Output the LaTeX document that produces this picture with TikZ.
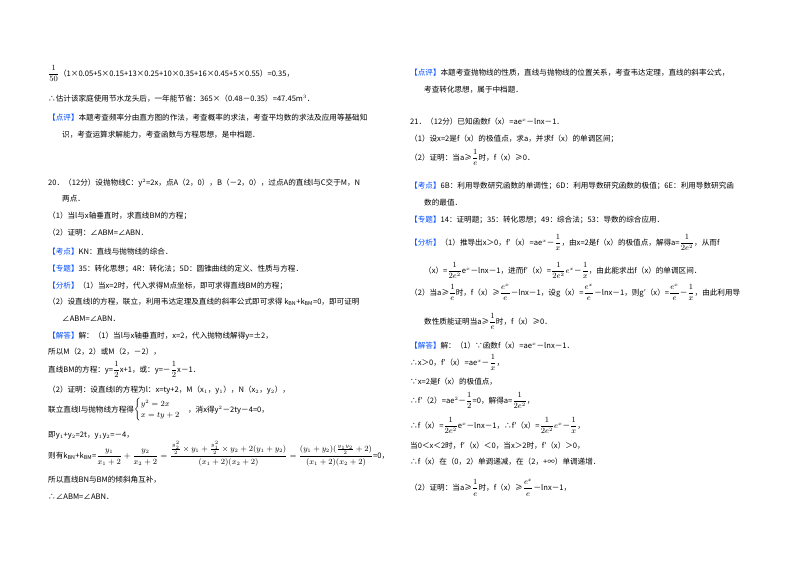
\documentclass[tikz,border=0pt]{standalone}
\usepackage{fontspec}
\usepackage{amsmath}
\setmainfont{Noto Sans CJK SC}
\begin{document}
\begin{tikzpicture}[x=1pt,y=-1pt,
 t/.style={anchor=base west,inner sep=0pt,font=\fontsize{7.6}{9}\selectfont}]
\useasboundingbox[fill=white] (0,0) rectangle (800,565);
\def\L#1{\textcolor{blue!70!cyan}{【#1】}}
\let\f\dfrac
% left column
\node[t] (l1) at (48,76) {$\f{1}{50}$（1×0.05+5×0.15+13×0.25+10×0.35+16×0.45+5×0.55）=0.35，};
\node[t] (l2) at (48,101) {∴估计该家庭使用节水龙头后，一年能节省：365×（0.48－0.35）=47.45m$^3$．};
\node[t] (l3) at (48,120) {\L{点评}本题考查频率分由直方图的作法，考查概率的求法，考查平均数的求法及应用等基础知};
\node[t] (l4) at (62,137) {识，考查运算求解能力，考查函数与方程思想，是中档题．};
\node[t] (l5) at (48,185) {20．（12分）设抛物线C：y$^2$=2x，点A（2，0），B（－2，0），过点A的直线l与C交于M，N};
\node[t] (l6) at (62,201) {两点．};
\node[t] (l7) at (48,218) {（1）当l与x轴垂直时，求直线BM的方程；};
\node[t] (l8) at (48,235) {（2）证明：∠ABM=∠ABN．};
\node[t] (l9) at (48,254) {\L{考点}KN：直线与抛物线的综合．};
\node[t] (l11) at (48,271) {\L{专题}35：转化思想；4R：转化法；5D：圆锥曲线的定义、性质与方程．};
\node[t] (l12) at (48,288) {\L{分析}（1）当x=2时，代入求得M点坐标，即可求得直线BM的方程；};
\node[t] (l13) at (48,304) {（2）设直线l的方程，联立，利用韦达定理及直线的斜率公式即可求得 k$_{\mathrm{BN}}$+k$_{\mathrm{BM}}$=0，即可证明};
\node[t] (l14) at (62,321) {∠ABM=∠ABN．};
\node[t] (l15) at (48,338) {\L{解答}解：（1）当l与x轴垂直时，x=2，代入抛物线解得y=±2，};
\node[t] (l16) at (48,354) {所以M（2，2）或M（2，－2），};
\node[t] (l17) at (48,372) {直线BM的方程：y=$\f{1}{2}$x+1，或：y=－$\f{1}{2}$x－1．};
\node[t] (l18) at (48,392) {（2）证明：设直线l的方程为l：x=ty+2，M（x$_1$，y$_1$），N（x$_2$，y$_2$），};
\node[t] (l19) at (48,412) {联立直线l与抛物线方程得$\begin{cases}y^2=2x\\ x=ty+2\end{cases}$，消x得y$^2$－2ty－4=0，};
\node[t] (l20) at (48,437) {即y$_1$+y$_2$=2t，y$_1$y$_2$=－4，};
\node[t] (l21) at (48,458) {则有k$_{\mathrm{BN}}$+k$_{\mathrm{BM}}$=$\f{y_1}{x_1+2}+\f{y_2}{x_2+2}=\f{\frac{y_2^2}{2}\times y_1+\frac{y_1^2}{2}\times y_2+2(y_1+y_2)}{(x_1+2)(x_2+2)}=\f{(y_1+y_2)(\frac{y_1y_2}{2}+2)}{(x_1+2)(x_2+2)}$=0，};
\node[t] (l22) at (48,482) {所以直线BN与BM的倾斜角互补，};
\node[t] (l23) at (48,499) {∴∠ABM=∠ABN．};
% right column
\node[t] (r1) at (410,75) {\L{点评}本题考查抛物线的性质，直线与抛物线的位置关系，考查韦达定理，直线的斜率公式，};
\node[t] (r2) at (424,92) {考查转化思想，属于中档题．};
\node[t] (r3) at (410,124) {21．（12分）已知函数f（x）=ae$^x$－lnx－1．};
\node[t] (r4) at (410,141) {（1）设x=2是f（x）的极值点，求a，并求f（x）的单调区间；};
\node[t] (r5) at (410,160) {（2）证明：当a≥$\f{1}{e}$时，f（x）≥0．};
\node[t] (r6) at (410,188) {\L{考点}6B：利用导数研究函数的单调性；6D：利用导数研究函数的极值；6E：利用导数研究函};
\node[t] (r7) at (424,205) {数的最值．};
\node[t] (r8) at (410,222) {\L{专题}14：证明题；35：转化思想；49：综合法；53：导数的综合应用．};
\node[t] (r9) at (410,245) {\L{分析}（1）推导出x＞0，f′（x）=ae$^x$－$\f{1}{x}$，由x=2是f（x）的极值点，解得a=$\f{1}{2e^2}$，从而f};
\node[t] (r10) at (424,273) {（x）=$\f{1}{2e^2}$e$^x$－lnx－1，进而f′（x）=$\f{1}{2e^2}e^x$－$\f{1}{x}$，由此能求出f（x）的单调区间．};
\node[t] (r11) at (410,295) {（2）当a≥$\f{1}{e}$时，f（x）≥$\f{e^x}{e}$－lnx－1，设g（x）=$\f{e^x}{e}$－lnx－1，则g′（x）=$\f{e^x}{e}$－$\f{1}{x}$，由此利用导};
\node[t] (r12) at (424,324) {数性质能证明当a≥$\f{1}{e}$时，f（x）≥0．};
\node[t] (r13) at (410,348) {\L{解答}解：（1）∵函数f（x）=ae$^x$－lnx－1．};
\node[t] (r14) at (410,365) {∴x＞0，f′（x）=ae$^x$－$\f{1}{x}$，};
\node[t] (r15) at (410,384) {∵x=2是f（x）的极值点，};
\node[t] (r16) at (410,403) {∴f′（2）=ae$^2$－$\f{1}{2}$=0，解得a=$\f{1}{2e^2}$，};
\node[t] (r17) at (410,428) {∴f（x）=$\f{1}{2e^2}$e$^x$－lnx－1，∴f′（x）=$\f{1}{2e^2}e^x$－$\f{1}{x}$，};
\node[t] (r18) at (410,448) {当0＜x＜2时，f′（x）＜0，当x＞2时，f′（x）＞0，};
\node[t] (r19) at (410,464) {∴f（x）在（0，2）单调递减，在（2，+∞）单调递增．};
\node[t] (r20) at (410,490) {（2）证明：当a≥$\f{1}{e}$时，f（x）≥$\f{e^x}{e}$－lnx－1，};
\end{tikzpicture}
\end{document}
